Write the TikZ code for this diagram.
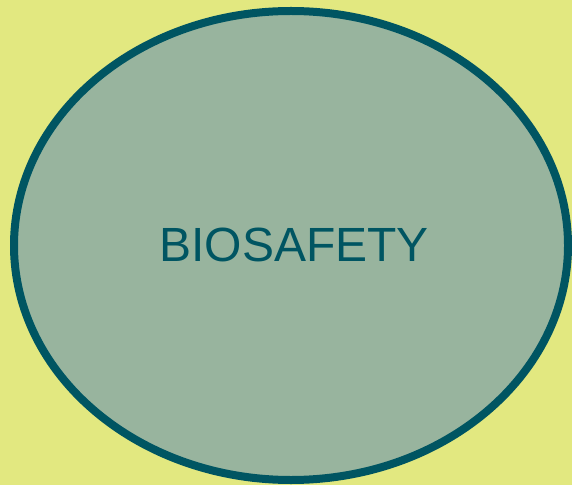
\documentclass[tikz,border=0pt]{standalone}
\usepackage{fontspec}
\setmainfont{Liberation Sans}
\definecolor{bgyellow}{RGB}{226,232,128}
\definecolor{fillgreen}{RGB}{152,180,158}
\definecolor{tealdark}{RGB}{0,85,98}
\tikzset{
  bubble/.style={draw=tealdark, fill=fillgreen, line width=8pt},
  label/.style={text=tealdark, font=\fontsize{48}{57}\selectfont, inner sep=0pt}
}
\begin{document}
\begin{tikzpicture}[x=1pt,y=1pt]
  \fill[bgyellow] (0,0) rectangle (572,485);
  \useasboundingbox (0,0) rectangle (572,485);
  \draw[bubble] (291,239.5) ellipse [x radius=277, y radius=234.5];
  \node[label] (title) at (294,240) {BIOSAFETY};
\end{tikzpicture}
\end{document}
